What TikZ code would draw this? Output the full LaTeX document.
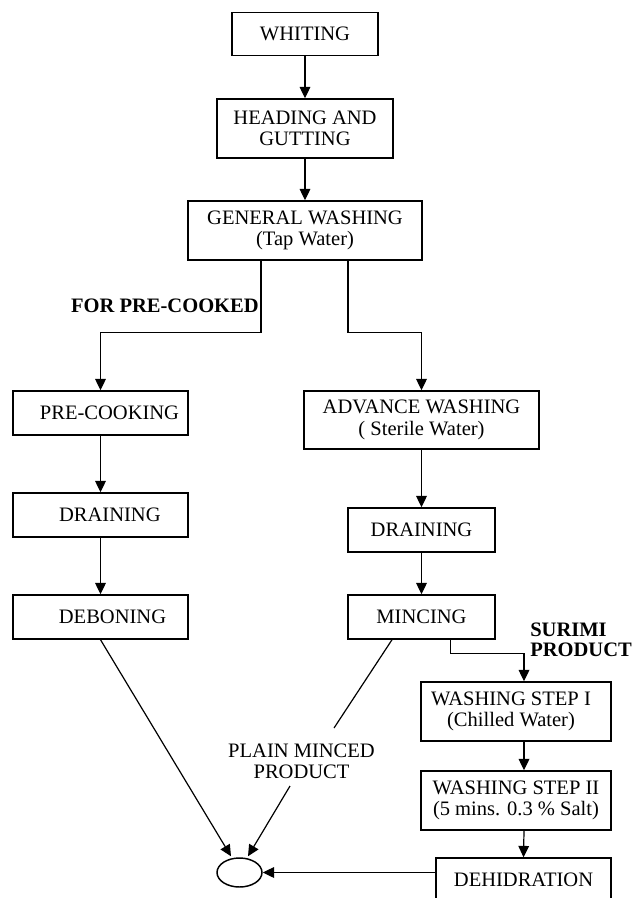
\documentclass[tikz,border=0pt]{standalone}
\usepackage{fontspec}
\setmainfont{Liberation Serif}
\usetikzlibrary{arrows.meta,calc,shapes.geometric}
\newcommand\pxl[1]{#1*0.75pt}
\begin{document}
\begin{tikzpicture}[x=0.75pt,y=-0.75pt,
  every node/.style={font=\fontsize{15.4}{16}\selectfont},
  box/.style={draw,line width=1.1pt,inner sep=0pt,align=center},
  arr/.style={line width=0.9pt,-{Triangle[length=8.5pt,width=8pt]}},
  ln/.style={line width=0.9pt},
  lbl/.style={font=\fontsize{15.4}{15}\selectfont\bfseries,inner sep=0pt}]
\useasboundingbox (0,0) rectangle (632,898);
\clip (0,0) rectangle (632,898);

% boxes
\node[box,minimum width=\pxl{146},minimum height=\pxl{43}] (wh) at (305,34) {WHITING};
\node[box,minimum width=\pxl{176},minimum height=\pxl{59}] (hg) at (305,128.5) {HEADING AND\\GUTTING};
\node[box,minimum width=\pxl{234},minimum height=\pxl{59}] (gw) at (305,230.5) {GENERAL WASHING\\(Tap Water)};
\node[box,minimum width=\pxl{175},minimum height=\pxl{44}] (pc) at (100.5,413) {\hspace*{13.5pt}PRE-COOKING};
\node[box,minimum width=\pxl{175},minimum height=\pxl{44}] (dl) at (100.5,515) {\hspace*{14pt}DRAINING};
\node[box,minimum width=\pxl{175},minimum height=\pxl{44}] (db) at (100.5,617) {\hspace*{18pt}DEBONING};
\node[box,minimum width=\pxl{235},minimum height=\pxl{58}] (aw) at (421.5,420) {ADVANCE WASHING\\( Sterile Water)};
\node[box,minimum width=\pxl{147},minimum height=\pxl{44}] (dr) at (421.5,530) {DRAINING};
\node[box,minimum width=\pxl{147},minimum height=\pxl{44}] (mn) at (421.5,617) {MINCING};
\node[box,minimum width=\pxl{190},minimum height=\pxl{59}] (w1) at (516,711.5) {WASHING STEP I\hspace*{7.5pt}\\(Chilled Water)\hspace*{7.5pt}};
\node[box,minimum width=\pxl{190},minimum height=\pxl{59}] (w2) at (516,800.5) {WASHING STEP II\\(5 mins. 0.3 \% Salt)};
\node[box,minimum width=\pxl{175},minimum height=\pxl{44}] (dh) at (523.5,880) {DEHIDRATION};
\node[draw,ellipse,line width=1.1pt,inner sep=0pt,minimum width=\pxl{45},minimum height=\pxl{29}] (el) at (239.5,872.5) {};

% labels
\node[align=center,inner sep=0pt] (pm) at (301.5,761.5) {PLAIN MINCED\\PRODUCT};
\node[lbl,anchor=east] (fpc) at (259,306) {FOR PRE-COOKED};
\node[lbl,anchor=west,align=left] (sp) at (530,640) {SURIMI\\PRODUCT};

% free ends
\coordinate (mfree) at (334,728);
\coordinate (pfree) at (290,786);

% connectors
\draw[arr] (wh.south) -- (hg.north);
\draw[arr] (hg.south) -- (gw.north);
\draw[arr] ($(gw.south)+(-44,0)$) |- ($(pc.north)+(0,-58)$) -- (pc.north);
\draw[arr] ($(gw.south)+(43,0)$) |- ($(aw.north)+(0,-58)$) -- (aw.north);
\draw[arr] (pc.south) -- (dl.north);
\draw[arr] (dl.south) -- (db.north);
\draw[arr] (aw.south) -- (dr.north);
\draw[arr] (dr.south) -- (mn.north);
\draw[arr] ($(mn.south)+(29,0)$) -- ++(0,14) -| ($(w1.north)+(8,0)$);
\draw[arr] ($(w1.south)+(8,0)$) -- ($(w2.north)+(8,0)$);
\draw[arr] ($(w2.south)+(8,0)$) -- (dh.north);
\draw[arr] (dh.west |- el.east) -- (el.east);
\draw[arr] (db.south) -- ($(el.north)+(-8.5,-1)$);
\draw[ln] ($(mn.south)+(-29.5,0)$) -- (mfree);
\draw[arr] (pfree) -- ($(el.north)+(8.5,-1)$);
\end{tikzpicture}
\end{document}
